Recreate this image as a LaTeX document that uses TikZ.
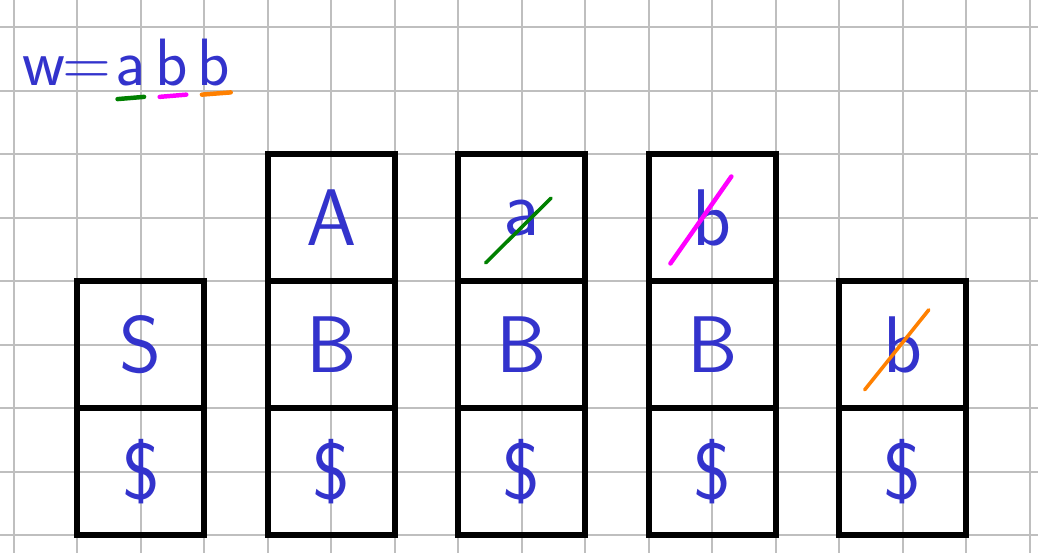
\documentclass[tikz,border=0pt]{standalone}
\usepackage{xcolor}
\usepackage{tikz}
\usetikzlibrary{positioning}

\definecolor{ink}{RGB}{51,51,204}
\definecolor{strokeA}{RGB}{0,128,0}
\definecolor{strokeB}{RGB}{255,0,255}
\definecolor{strokeC}{RGB}{255,128,0}

\begin{document}
\begin{tikzpicture}[
  every node/.style={font=\sffamily\fontsize{36}{36}\selectfont,text=ink},
  cell/.style={draw=black,line width=2.7pt,minimum size=2cm,
               inner sep=0pt,outer sep=0pt},
  glyph/.style={inner sep=0pt,font=\sffamily\fontsize{30}{30}\selectfont},
  paper/.style={draw=black!25,line width=0.9pt},
  pen/.style={line width=1.6pt,line cap=round},
]
\useasboundingbox (-0.22,-0.28) rectangle (16.13,8.43);
\draw[paper] (-0.22,-0.28) grid (16.13,8.43);

% input word
\node[glyph,anchor=base west] (w) at (0.12,7.08) {w\kern-1pt=};
\node[glyph,base right=0.05cm of w] (in1) {a};
\node[glyph,base right=0.14cm of in1] (in2) {b};
\node[glyph,base right=0.14cm of in2] (in3) {b};
\draw[pen,strokeA,line width=2pt] ([shift={(1pt,-6pt)}]in1.base west) -- ([shift={(-1pt,-5pt)}]in1.base east);
\draw[pen,strokeB,line width=2pt] ([shift={(2pt,-5pt)}]in2.base west) -- ([shift={(-1pt,-4pt)}]in2.base east);
\draw[pen,strokeC,line width=2pt] ([shift={(2pt,-4pt)}]in3.base west) -- ([shift={(0pt,-3pt)}]in3.base east);

% stacks
\node[cell] (s1) at (2,1) {\$};
\node[cell,above=0pt of s1] (s2) {S};

\node[cell,right=1cm of s1] (t1) {\$};
\node[cell,above=0pt of t1] (t2) {B};
\node[cell,above=0pt of t2] (t3) {A};

\node[cell,right=1cm of t1] (u1) {\$};
\node[cell,above=0pt of u1] (u2) {B};
\node[cell,above=0pt of u2] (u3) {a};

\node[cell,right=1cm of u1] (v1) {\$};
\node[cell,above=0pt of v1] (v2) {B};
\node[cell,above=0pt of v2] (v3) {b};

\node[cell,right=1cm of v1] (x1) {\$};
\node[cell,above=0pt of x1] (x2) {b};

% crossed out
\draw[pen,strokeA] ([shift={(-0.57,-0.71)}]u3.center) -- ([shift={(0.46,0.31)}]u3.center);
\draw[pen,strokeB,line width=2pt] ([shift={(-0.66,-0.72)}]v3.center) -- ([shift={(0.30,0.65)}]v3.center);
\draw[pen,strokeC] ([shift={(-0.60,-0.71)}]x2.center) -- ([shift={(0.41,0.55)}]x2.center);
\end{tikzpicture}
\end{document}
